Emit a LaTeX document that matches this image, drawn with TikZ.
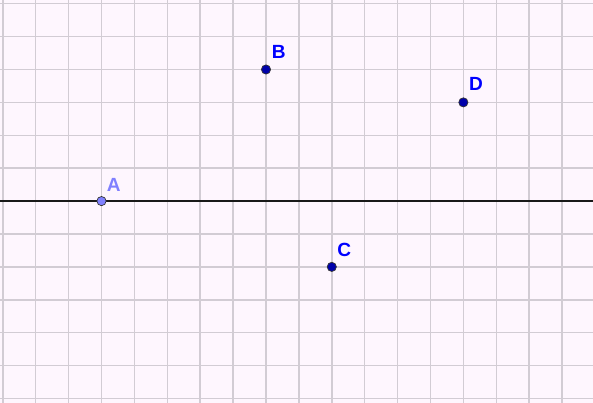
\documentclass[tikz,border=0pt]{standalone}
\usepackage{fontspec}
\setmainfont{Liberation Sans}
\usepackage{tikz}
\usepackage{xcolor}
\usetikzlibrary{positioning, calc}
\definecolor{paperbg}{RGB}{254, 246, 254}
\definecolor{gridgray}{RGB}{210, 204, 212}
\definecolor{ptblue}{RGB}{0, 0, 170}
\definecolor{ptlight}{RGB}{128, 128, 255}
\definecolor{lblblue}{RGB}{0, 0, 255}

\begin{document}
\begin{tikzpicture}[
    pt/.style={circle, draw=black!80, line width=0.6pt, fill=ptblue, inner sep=0pt, minimum size=0.28cm},
    lbl/.style={lblblue, font=\fontsize{16.5}{17}\selectfont\bfseries}
  ]
    % Background and grid
    \fill[paperbg] (-3.085,-6.137) rectangle (14.94,6.112);
    \useasboundingbox (-3.085,-6.137) rectangle (14.94,6.112);
    \begin{scope}
        \clip (-3.085,-6.137) rectangle (14.94,6.112);
        \draw[gridgray, line width=1.3pt] (-4,-7) grid (15,7);
    \end{scope}

    % Line through A
    \coordinate (lineL) at (-3.085,0);
    \coordinate (lineR) at (14.94,0);
    \draw[line width=2.3pt, black!90] (lineL) -- (lineR);

    % Points
    \node[pt, fill=ptlight] (A) at (0,0) {};
    \node[pt] (B) at (5,4) {};
    \node[pt] (C) at (7,-2) {};
    \node[pt] (D) at (11,3) {};

    % Labels
    \node[lbl, ptlight] (labA) at ($(A)+(0.37,0.5)$) {A};
    \node[lbl] (labB) at ($(B)+(0.39,0.54)$) {B};
    \node[lbl] (labC) at ($(C)+(0.38,0.51)$) {C};
    \node[lbl] (labD) at ($(D)+(0.38,0.55)$) {D};
\end{tikzpicture}
\end{document}
